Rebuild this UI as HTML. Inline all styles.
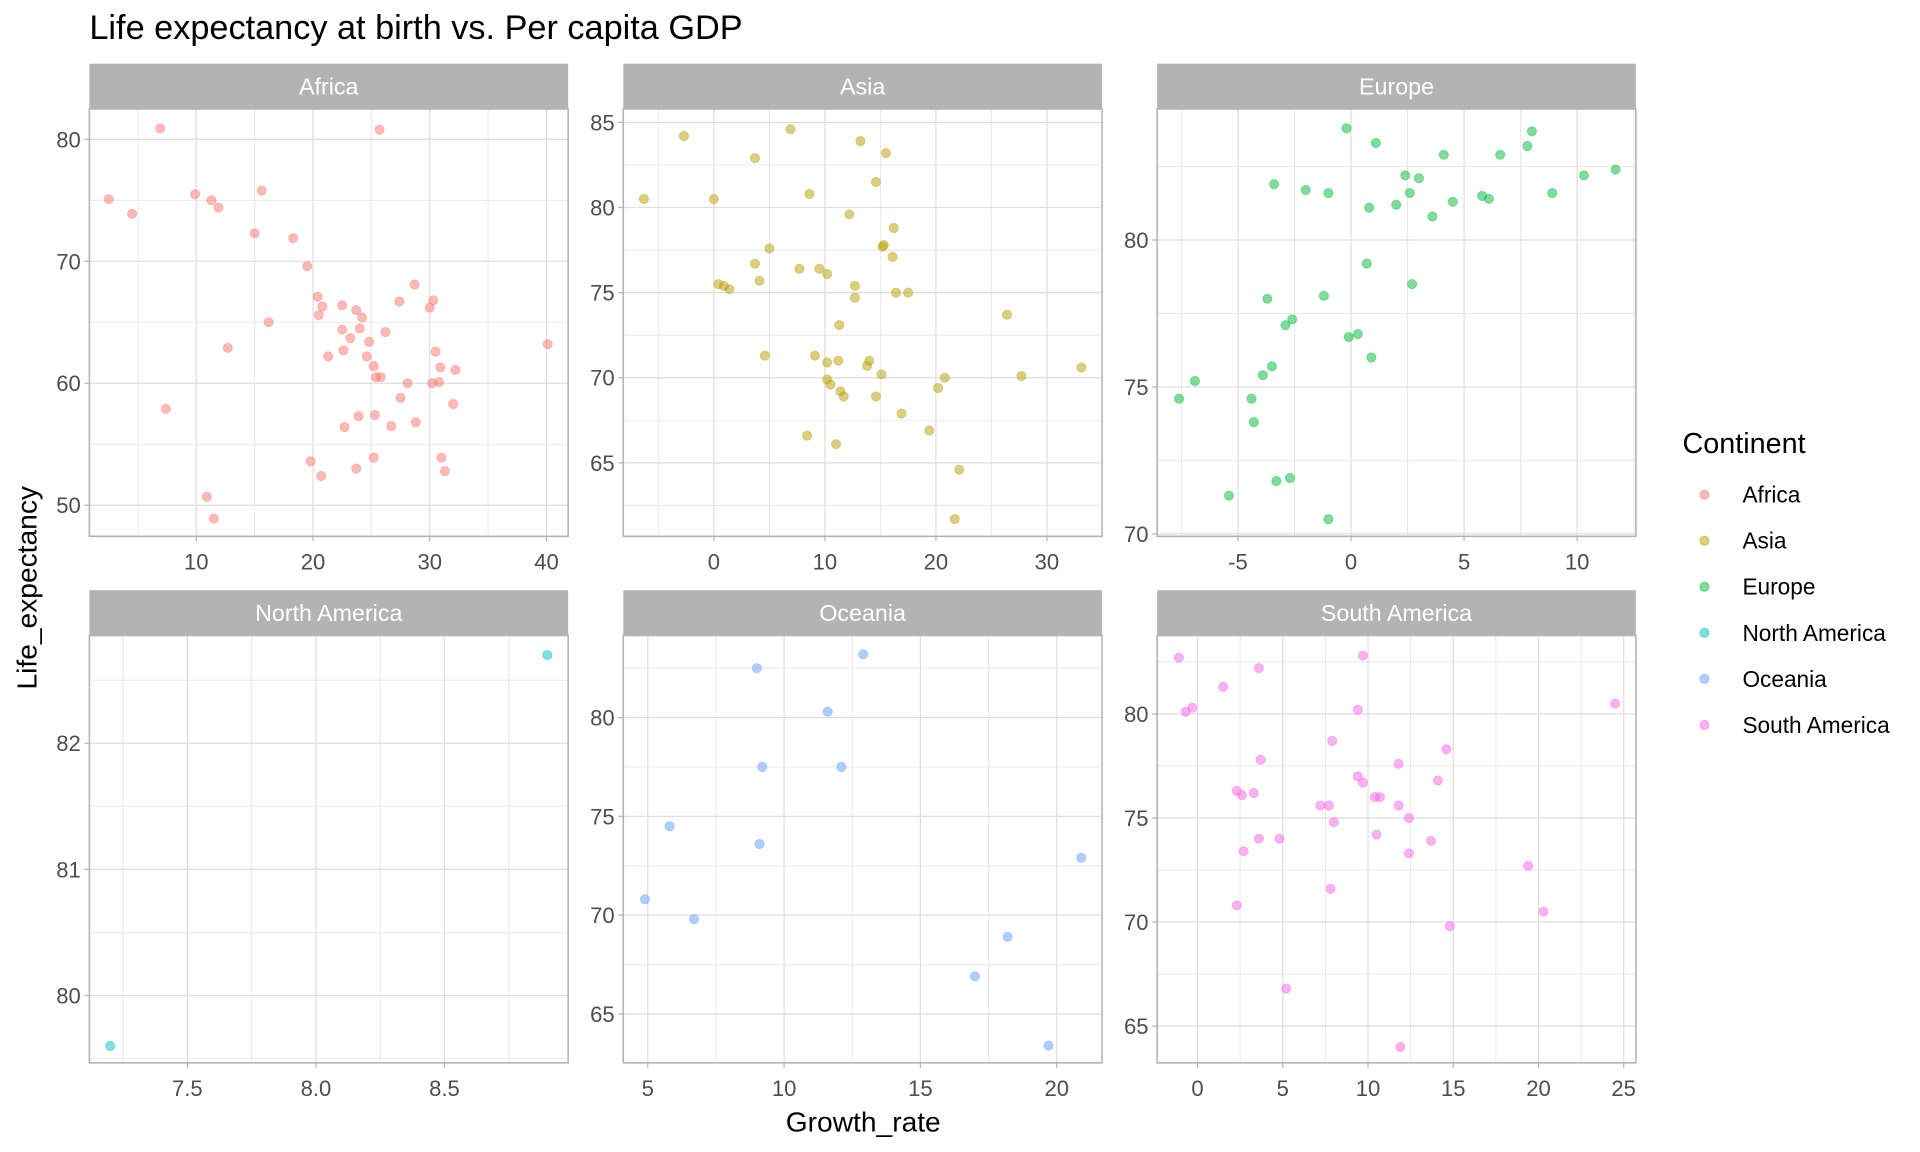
<!DOCTYPE html>
<html><head><meta charset="utf-8"><style>
html,body{margin:0;padding:0;background:#fff;overflow:hidden;width:1920px;height:1152px;}
svg{display:block;font-family:"Liberation Sans",sans-serif;}
</style></head><body>
<svg id="chart" width="1920" height="1152" viewBox="0 0 1568 940.8" xmlns="http://www.w3.org/2000/svg">
<rect width="1568" height="940.8" fill="#fff"/>
<text x="73" y="32" font-size="28" fill="#000">Life expectancy at birth vs. Per capita GDP</text>
<text transform="translate(30,480) rotate(-90)" text-anchor="middle" font-size="23" fill="#000">Life_expectancy</text>
<text x="705" y="924" text-anchor="middle" font-size="23" fill="#000">Growth_rate</text>
<g id="panels"></g>
<g id="legend">
<text x="1374" y="370" font-size="23.5" fill="#000">Continent</text>
</g>
</svg>
<script>
const continents = ["Africa","Asia","Europe","North America","Oceania","South America"];
const colors = ["#F8766D","#B79F00","#00BA38","#00BFC4","#619CFF","#F564E3"];
const africaX = [2.5,4.5,6.9,7.4,9.9,11.3,11.9,10.9,11.5,12.7,15.0,15.6,16.2,18.3,19.5,19.8,20.7,20.4,20.8,20.5,21.3,22.5,22.5,22.6,22.7,23.2,23.7,24.0,24.2,23.9,23.7,24.8,24.6,25.2,25.4,25.8,25.3,25.2,25.7,26.2,26.7,27.4,27.5,28.1,28.7,28.8,30.0,30.3,30.5,30.2,30.8,30.9,32.2,32.0,31.0,31.3,40.1];
const africaY = [75.1,73.9,80.9,57.9,75.5,75.0,74.4,50.7,48.9,62.9,72.3,75.8,65.0,71.9,69.6,53.6,52.4,67.1,66.3,65.6,62.2,66.4,64.4,62.7,56.4,63.7,66.0,64.5,65.4,57.3,53.0,63.4,62.2,61.4,60.5,60.5,57.4,53.9,80.8,64.2,56.5,66.7,58.8,60.0,68.1,56.8,66.2,66.8,62.6,60.0,60.1,61.3,61.1,58.3,53.9,52.8,63.2];
const asiaX = [-6.3,-2.7,0.0,0.4,0.9,1.4,3.7,3.7,4.1,4.6,5.0,6.9,7.7,8.4,8.6,9.1,9.5,10.2,10.2,10.2,10.5,11.0,11.2,11.3,11.4,11.7,12.2,12.7,12.7,13.2,13.8,14.0,14.6,14.6,15.1,15.2,15.3,15.5,16.1,16.2,16.4,16.9,17.5,19.4,20.2,20.8,21.7,22.1,26.4,27.7,33.1];
const asiaY = [80.5,84.2,80.5,75.5,75.4,75.2,82.9,76.7,75.7,71.3,77.6,84.6,76.4,66.6,80.8,71.3,76.4,76.1,70.9,69.9,69.6,66.1,71.0,73.1,69.2,68.9,79.6,75.4,74.7,83.9,70.7,71.0,81.5,68.9,70.2,77.7,77.8,83.2,77.1,78.8,75.0,67.9,75.0,66.9,69.4,70.0,61.7,64.6,73.7,70.1,70.6];
const europeX = [-7.6,-6.9,-5.4,-4.4,-4.3,-3.9,-3.7,-3.5,-3.4,-3.3,-2.9,-2.7,-2.6,-2.0,-1.2,-1.0,-1.0,-0.2,-0.1,0.3,0.7,0.8,0.9,1.1,2.0,2.4,2.6,2.7,3.0,3.6,4.1,4.5,5.8,6.1,6.6,7.8,8.0,8.9,10.3,11.7];
const europeY = [74.6,75.2,71.3,74.6,73.8,75.4,78.0,75.7,81.9,71.8,77.1,71.9,77.3,81.7,78.1,81.6,70.5,83.8,76.7,76.8,79.2,81.1,76.0,83.3,81.2,82.2,81.6,78.5,82.1,80.8,82.9,81.3,81.5,81.4,82.9,83.2,83.7,81.6,82.2,82.4];
const northAmericaX = [7.2,8.9];
const northAmericaY = [79.6,82.7];
const oceaniaX = [4.9,5.8,6.7,9.0,9.2,9.1,11.6,12.1,12.9,17.0,18.2,19.7,20.9];
const oceaniaY = [70.8,74.5,69.8,82.5,77.5,73.6,80.3,77.5,83.2,66.9,68.9,63.4,72.9];
const southAmericaX = [-1.1,-0.7,-0.3,1.5,2.3,2.6,2.3,2.7,3.3,3.6,3.6,3.7,4.8,5.2,7.2,7.7,7.8,7.9,8.0,9.4,9.4,9.7,9.7,10.4,10.5,10.7,11.8,11.8,11.9,12.4,12.4,13.7,14.1,14.6,14.8,19.4,20.3,24.5];
const southAmericaY = [82.7,80.1,80.3,81.3,76.3,76.1,70.8,73.4,76.2,74.0,82.2,77.8,74.0,66.8,75.6,75.6,71.6,78.7,74.8,77.0,80.2,82.8,76.7,76.0,74.2,76.0,77.6,75.6,64.0,75.0,73.3,73.9,76.8,78.3,69.8,72.7,70.5,80.5];
const xTicksAfrica=[10,20,30,40], yTicksAfrica=[50,60,70,80];
const xTicksAsia=[0,10,20,30], yTicksAsia=[65,70,75,80,85];
const xTicksEurope=[-5,0,5,10], yTicksEurope=[70,75,80];
const xTicksNA=["7.5","8.0","8.5"], yTicksNA=[80,81,82];
const xTicksOceania=[5,10,15,20], yTicksOceania=[65,70,75,80];
const xTicksSA=[0,5,10,15,20,25], yTicksSA=[65,70,75,80];

const NS="http://www.w3.org/2000/svg";
function mk(tag,attrs,parent){const e=document.createElementNS(NS,tag);for(const k in attrs)e.setAttribute(k,attrs[k]);parent.appendChild(e);return e;}
function lin(v0,p0,v1,p1){return v=>p0+(v-v0)*(p1-p0)/(v1-v0);}
const panels=[
 {name:"Africa",xs:africaX,ys:africaY,xt:xTicksAfrica,yt:yTicksAfrica,L:73,T:89,sx:lin(10,160.3,40,446.3),sy:lin(80,113.8,50,412.6)},
 {name:"Asia",xs:asiaX,ys:asiaY,xt:xTicksAsia,yt:yTicksAsia,L:509,T:89,sx:lin(0,583,30,855),sy:lin(85,100,65,378)},
 {name:"Europe",xs:europeX,ys:europeY,xt:xTicksEurope,yt:yTicksEurope,L:945,T:89,sx:lin(-5,1011,10,1288),sy:lin(80,196,70,436)},
 {name:"North America",xs:northAmericaX,ys:northAmericaY,xt:xTicksNA,yt:yTicksNA,L:73,T:519,sx:lin(7.5,153,8.5,363),sy:lin(82,607,80,813)},
 {name:"Oceania",xs:oceaniaX,ys:oceaniaY,xt:xTicksOceania,yt:yTicksOceania,L:509,T:519,sx:lin(5,529,20,863),sy:lin(80,586,65,828)},
 {name:"South America",xs:southAmericaX,ys:southAmericaY,xt:xTicksSA,yt:yTicksSA,L:945,T:519,sx:lin(0,978,25,1326),sy:lin(80,583,65,838)}
];
const W=391,H=349;
const root=document.getElementById("panels");
panels.forEach((p,i)=>{
  const slug=p.name.toLowerCase().replace(/ /g,"-");
  const g=mk("g",{},root);
  
  
  const strip=mk("rect",{x:p.L,y:p.T-37,width:W,height:37,fill:"#b3b3b3"},g);
  
  
  const st=mk("text",{x:p.L+W/2,y:p.T-12,"text-anchor":"middle","font-size":"19",fill:"#fff"},g);
  st.textContent=p.name;
  
  
  const clipId="clip"+i;
  const cp=mk("clipPath",{id:clipId},g);mk("rect",{x:p.L,y:p.T,width:W,height:H},cp);
  const grid=mk("g",{"clip-path":"url(#"+clipId+")"},g);
  
  
  const xv=p.xt.map(Number), yv=p.yt.map(Number);
  const dx=xv[1]-xv[0], dy=yv[1]-yv[0];
  for(let k=-6;k<xv.length+6;k++){const v=xv[0]+(k-0.5)*dx;const px=p.sx(v);mk("line",{x1:px,x2:px,y1:p.T,y2:p.T+H,stroke:"#e8e8e8","stroke-width":0.8},grid);}
  for(let k=-6;k<yv.length+6;k++){const v=yv[0]+(k-0.5)*dy;const py=p.sy(v);mk("line",{x1:p.L,x2:p.L+W,y1:py,y2:py,stroke:"#e8e8e8","stroke-width":0.8},grid);}
  xv.forEach(v=>{const px=p.sx(v);mk("line",{x1:px,x2:px,y1:p.T,y2:p.T+H,stroke:"#dedede","stroke-width":1},grid);});
  yv.forEach(v=>{const py=p.sy(v);mk("line",{x1:p.L,x2:p.L+W,y1:py,y2:py,stroke:"#dedede","stroke-width":1},grid);});
  const pts=mk("g",{"clip-path":"url(#"+clipId+")"},g);
  
  
  p.xs.forEach((x,j)=>{
    const c=mk("circle",{cx:p.sx(x),cy:p.sy(p.ys[j]),r:3.8,fill:colors[i],"fill-opacity":0.5,stroke:colors[i],"stroke-opacity":0.35,"stroke-width":0.8},pts);
    
    
  });
  const border=mk("rect",{x:p.L,y:p.T,width:W,height:H,fill:"none",stroke:"#b3b3b3","stroke-width":1.3},g);
  
  
  p.xt.forEach(t=>{const px=p.sx(Number(t));
    mk("line",{x1:px,x2:px,y1:p.T+H,y2:p.T+H+4,stroke:"#b3b3b3","stroke-width":1},g);
    const tx=mk("text",{x:px,y:p.T+H+27,"text-anchor":"middle","font-size":"18",fill:"#4d4d4d"},g);
    tx.textContent=t;
    
    
  });
  p.yt.forEach(t=>{const py=p.sy(Number(t));
    mk("line",{x1:p.L-4,x2:p.L,y1:py,y2:py,stroke:"#b3b3b3","stroke-width":1},g);
    const ty=mk("text",{x:p.L-7,y:py+6.5,"text-anchor":"end","font-size":"18",fill:"#4d4d4d"},g);
    ty.textContent=t;
    
    
  });
});
const leg=document.getElementById("legend");
continents.forEach((c,i)=>{
  const y=404+i*37.6;
  const e=mk("g",{},leg);
  
  
  mk("circle",{cx:1392,cy:y,r:3.8,fill:colors[i],"fill-opacity":0.5,stroke:colors[i],"stroke-opacity":0.35},e);
  const t=mk("text",{x:1423,y:y+6.5,"font-size":"18.5",fill:"#000"},e);
  t.textContent=c;
});
</script>
</body></html>
